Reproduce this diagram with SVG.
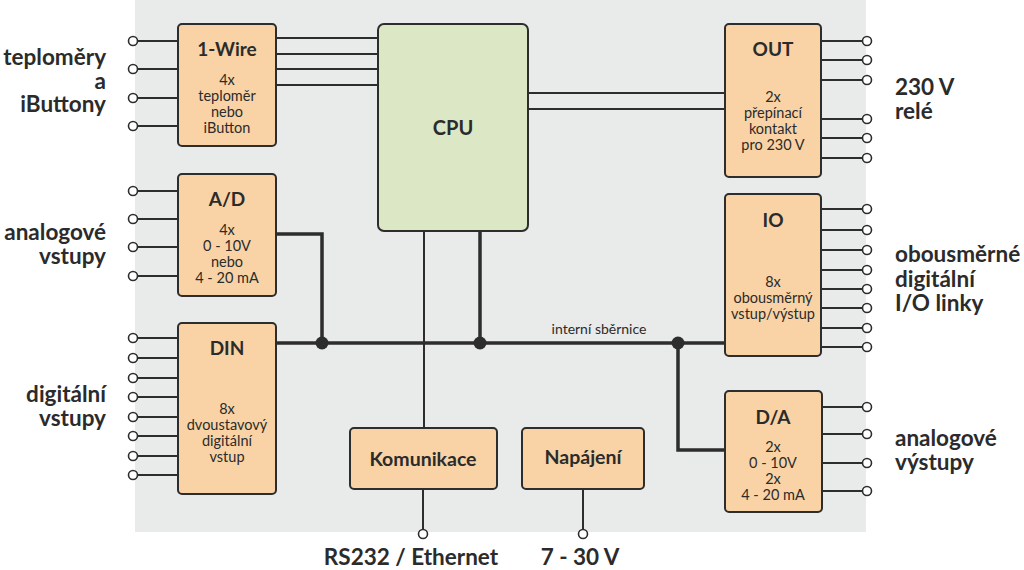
<svg xmlns="http://www.w3.org/2000/svg" width="1024" height="570" viewBox="0 0 1024 570">
<style>
.box{fill:#f9d3a5;stroke:#2d2d2d;stroke-width:2}
.cpu{fill:#dbe7c5;stroke:#2d2d2d;stroke-width:2}
.thin{stroke:#2d2d2d;stroke-width:2;fill:none}
.bus{stroke:#2d2d2d;stroke-width:3.5;fill:none}
.pin{fill:#fff;stroke:#2d2d2d;stroke-width:1.6}
.t{font-family:Lato,"Open Sans",sans-serif;fill:#2b2b2b;text-anchor:middle}
.title{font-size:19px;font-weight:bold}
.sub{font-size:14.5px}
.lbl{font-family:Lato,"Open Sans",sans-serif;fill:#2b2b2b;font-size:22.5px;font-weight:bold}
.dot{fill:#2d2d2d}
</style>
<rect x="135" y="0" width="731" height="532" fill="#e9eaea"/>
<g id="connectors">
  <path class="thin" d="M276 38H378M276 54H378M276 69H378M276 85H378"/>
  <path class="thin" d="M528 93H725M528 109H725"/>
  <path class="thin" d="M138 41H178M138 69H178M138 98H178M138 126H178"/>
  <path class="thin" d="M138 191H178M138 219H178M138 247H178M138 276H178"/>
  <path class="thin" d="M138 338H178M138 358H178M138 378H178M138 397H178M138 417H178M138 436H178M138 456H178M138 475H178"/>
  <path class="thin" d="M821 41H862M821 60H862M821 80H862M821 119H862M821 138H862M821 158H862"/>
  <path class="thin" d="M821 209H862M821 230H862M821 250H862M821 270H862M821 289H862M821 308H862M821 328H862M821 347H862"/>
  <path class="thin" d="M822 407H862M822 434H862M822 463H862M822 491H862"/>
  <path class="thin" d="M424 231V428"/>
  <path class="thin" d="M423 489V529M583 489V529"/>
  <path class="bus" d="M276 343H725"/>
  <path class="bus" d="M276 234H322V343"/>
  <path class="bus" d="M480 231V343"/>
  <path class="bus" d="M678 343V450H725"/>
  <circle class="dot" cx="322" cy="343" r="6.5"/>
  <circle class="dot" cx="480" cy="343" r="6.5"/>
  <circle class="dot" cx="678" cy="343" r="6.5"/>
  <text class="t" x="599" y="334" font-size="14">interní sběrnice</text>
  <g class="pin">
    <circle cx="133" cy="41" r="4.5"/><circle cx="133" cy="69" r="4.5"/><circle cx="133" cy="98" r="4.5"/><circle cx="133" cy="126" r="4.5"/>
    <circle cx="133" cy="191" r="4.5"/><circle cx="133" cy="219" r="4.5"/><circle cx="133" cy="247" r="4.5"/><circle cx="133" cy="276" r="4.5"/>
    <circle cx="133" cy="338" r="4.5"/><circle cx="133" cy="358" r="4.5"/><circle cx="133" cy="378" r="4.5"/><circle cx="133" cy="397" r="4.5"/><circle cx="133" cy="417" r="4.5"/><circle cx="133" cy="436" r="4.5"/><circle cx="133" cy="456" r="4.5"/><circle cx="133" cy="475" r="4.5"/>
    <circle cx="867" cy="41" r="4.5"/><circle cx="867" cy="60" r="4.5"/><circle cx="867" cy="80" r="4.5"/><circle cx="867" cy="119" r="4.5"/><circle cx="867" cy="138" r="4.5"/><circle cx="867" cy="158" r="4.5"/>
    <circle cx="867" cy="209" r="4.5"/><circle cx="867" cy="230" r="4.5"/><circle cx="867" cy="250" r="4.5"/><circle cx="867" cy="270" r="4.5"/><circle cx="867" cy="289" r="4.5"/><circle cx="867" cy="308" r="4.5"/><circle cx="867" cy="328" r="4.5"/><circle cx="867" cy="347" r="4.5"/>
    <circle cx="867" cy="407" r="4.5"/><circle cx="867" cy="434" r="4.5"/><circle cx="867" cy="463" r="4.5"/><circle cx="867" cy="491" r="4.5"/>
    <circle cx="423" cy="534" r="4.5"/><circle cx="583" cy="534" r="4.5"/>
  </g>
</g>
<g id="onewire">
  <rect class="box" x="178" y="24" width="98" height="122" rx="4"/>
  <text class="t title" x="227" y="56">1-Wire</text>
  <text class="t sub" x="227" y="85">4x</text>
  <text class="t sub" x="227" y="101">teploměr</text>
  <text class="t sub" x="227" y="117">nebo</text>
  <text class="t sub" x="227" y="133">iButton</text>
</g>
<g id="ad">
  <rect class="box" x="178" y="174" width="98" height="122" rx="4"/>
  <text class="t title" x="227" y="206">A/D</text>
  <text class="t sub" x="227" y="235">4x</text>
  <text class="t sub" x="227" y="251">0 - 10V</text>
  <text class="t sub" x="227" y="267">nebo</text>
  <text class="t sub" x="227" y="283">4 - 20 mA</text>
</g>
<g id="din">
  <rect class="box" x="178" y="323" width="98" height="171" rx="4"/>
  <text class="t title" x="227" y="355">DIN</text>
  <text class="t sub" x="227" y="414">8x</text>
  <text class="t sub" x="227" y="430">dvoustavový</text>
  <text class="t sub" x="227" y="446">digitální</text>
  <text class="t sub" x="227" y="462">vstup</text>
</g>
<g id="cpu">
  <rect class="cpu" x="378" y="24" width="150" height="207" rx="6"/>
  <text class="t" x="453" y="135" font-size="20" font-weight="bold">CPU</text>
</g>
<g id="out">
  <rect class="box" x="725" y="24" width="96" height="153" rx="4"/>
  <text class="t title" x="773" y="56">OUT</text>
  <text class="t sub" x="773" y="102">2x</text>
  <text class="t sub" x="773" y="118">přepínací</text>
  <text class="t sub" x="773" y="134">kontakt</text>
  <text class="t sub" x="773" y="150">pro 230 V</text>
</g>
<g id="io">
  <rect class="box" x="725" y="194" width="96" height="162" rx="4"/>
  <text class="t title" x="773" y="227">IO</text>
  <text class="t sub" x="773" y="287">8x</text>
  <text class="t sub" x="773" y="303">obousměrný</text>
  <text class="t sub" x="773" y="319">vstup/výstup</text>
</g>
<g id="da">
  <rect class="box" x="725" y="391" width="97" height="121" rx="4"/>
  <text class="t title" x="773" y="424">D/A</text>
  <text class="t sub" x="773" y="452">2x</text>
  <text class="t sub" x="773" y="468">0 - 10V</text>
  <text class="t sub" x="773" y="484">2x</text>
  <text class="t sub" x="773" y="500">4 - 20 mA</text>
</g>
<g id="komunikace">
  <rect class="box" x="350" y="428" width="147" height="61" rx="4"/>
  <text class="t" x="423" y="466" font-size="19.5" font-weight="bold">Komunikace</text>
</g>
<g id="napajeni">
  <rect class="box" x="522" y="428" width="122" height="61" rx="4"/>
  <text class="t" x="583" y="464" font-size="19.5" font-weight="bold">Napájení</text>
</g>
<g id="labels">
  <text class="lbl" x="106" y="65" text-anchor="end">teploměry</text>
  <text class="lbl" x="106" y="89" text-anchor="end">a</text>
  <text class="lbl" x="106" y="112" text-anchor="end">iButtony</text>
  <text class="lbl" x="106" y="240" text-anchor="end">analogové</text>
  <text class="lbl" x="106" y="264" text-anchor="end">vstupy</text>
  <text class="lbl" x="106" y="402" text-anchor="end">digitální</text>
  <text class="lbl" x="106" y="426" text-anchor="end">vstupy</text>
  <text class="lbl" x="895" y="95">230 V</text>
  <text class="lbl" x="895" y="119">relé</text>
  <text class="lbl" x="895" y="262">obousměrné</text>
  <text class="lbl" x="895" y="287">digitální</text>
  <text class="lbl" x="895" y="311">I/O linky</text>
  <text class="lbl" x="895" y="446">analogové</text>
  <text class="lbl" x="895" y="470">výstupy</text>
  <text class="lbl" x="411" y="565" text-anchor="middle">RS232 / Ethernet</text>
  <text class="lbl" x="580" y="565" text-anchor="middle">7 - 30 V</text>
</g>
</svg>
